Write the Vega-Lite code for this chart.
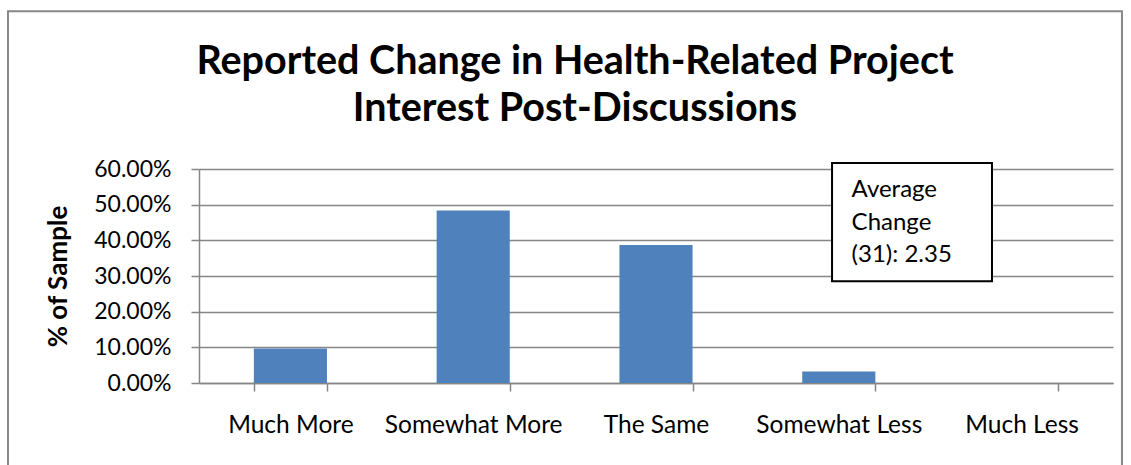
{
  "$schema": "https://vega.github.io/schema/vega-lite/v6.json",
  "width": 914,
  "height": 214,
  "autosize": {"type": "none"},
  "padding": {"left": 199, "top": 169, "right": 18, "bottom": 82},
  "background": "white",
  "config": {
    "font": "Lato",
    "view": {"stroke": null},
    "axis": {"labelFont": "Lato", "titleFont": "Lato", "labelColor": "black", "titleColor": "black"}
  },
  "title": {
    "text": ["Reported Change in Health-Related Project", "Interest Post-Discussions"],
    "font": "Lato",
    "fontSize": 39.5,
    "fontWeight": "bold",
    "lineHeight": 47,
    "anchor": "middle",
    "frame": "group",
    "dx": -81,
    "offset": 0,
    "dy": 119,
    "color": "black"
  },
  "datasets": {
    "bars": [
      {"response": "Much More", "pct": 0.0968},
      {"response": "Somewhat More", "pct": 0.4839},
      {"response": "The Same", "pct": 0.3871},
      {"response": "Somewhat Less", "pct": 0.0323},
      {"response": "Much Less", "pct": 0}
    ],
    "box": [{"x0": 0.6926, "x1": 0.8676, "y0": 0.285, "y1": 0.617}],
    "frame": [{"x0": -0.209, "x1": 1.0098, "y0": -0.3, "y1": 1.042}],
    "note": [
      {"line": "Average", "x": 0.714, "y": 0.540},
      {"line": "Change", "x": 0.714, "y": 0.448},
      {"line": "(31): 2.35", "x": 0.714, "y": 0.358}
    ]
  },
  "resolve": {"scale": {"x": "independent"}},
  "layer": [
    {
      "data": {"name": "bars"},
      "mark": {"type": "bar", "color": "#4F81BD"},
      "encoding": {
        "x": {
          "field": "response", "type": "nominal", "sort": null,
          "scale": {"paddingInner": 0.6, "paddingOuter": 0.3},
          "axis": {
            "title": null, "labelAngle": 0, "labelFontSize": 24.5, "labelPadding": 22,
            "tickBand": "extent", "tickSize": 8, "tickColor": "#868686", "domainColor": "#868686",
            "domainWidth": 1.5, "tickWidth": 1.5, "grid": false
          }
        },
        "y": {
          "field": "pct", "type": "quantitative",
          "scale": {"domain": [0, 0.6]},
          "axis": {
            "title": "% of Sample", "titleFontSize": 26, "titleFontWeight": "bold", "titlePadding": 22,
            "format": ".2%", "values": [0, 0.1, 0.2, 0.3, 0.4, 0.5, 0.6],
            "labelOverlap": false,
            "labelFontSize": 23, "labelPadding": 20, "tickSize": 8,
            "tickColor": "#868686", "domainColor": "#868686", "domainWidth": 1.5, "tickWidth": 1.5,
            "gridColor": "#868686", "gridWidth": 1.5
          }
        }
      }
    },
    {
      "data": {"name": "frame"},
      "mark": {"type": "rect", "fill": null, "stroke": "#888888", "strokeWidth": 2, "clip": false},
      "encoding": {
        "x": {"field": "x0", "type": "quantitative", "scale": {"domain": [0, 1]}, "axis": null},
        "x2": {"field": "x1"},
        "y": {
          "field": "y0", "type": "quantitative",
          "axis": {
            "title": "% of Sample", "titleFontSize": 26, "titleFontWeight": "bold", "titlePadding": 22,
            "format": ".2%", "values": [0, 0.1, 0.2, 0.3, 0.4, 0.5, 0.6],
            "labelOverlap": false,
            "labelFontSize": 23, "labelPadding": 20, "tickSize": 8,
            "tickColor": "#868686", "domainColor": "#868686", "domainWidth": 1.5, "tickWidth": 1.5,
            "gridColor": "#868686", "gridWidth": 1.5
          }
        },
        "y2": {"field": "y1"}
      }
    },
    {
      "data": {"name": "box"},
      "mark": {"type": "rect", "fill": "white", "stroke": "black", "strokeWidth": 2, "clip": false},
      "encoding": {
        "x": {"field": "x0", "type": "quantitative", "scale": {"domain": [0, 1]}, "axis": null},
        "x2": {"field": "x1"},
        "y": {
          "field": "y0", "type": "quantitative",
          "axis": {
            "title": "% of Sample", "titleFontSize": 26, "titleFontWeight": "bold", "titlePadding": 22,
            "format": ".2%", "values": [0, 0.1, 0.2, 0.3, 0.4, 0.5, 0.6],
            "labelOverlap": false,
            "labelFontSize": 23, "labelPadding": 20, "tickSize": 8,
            "tickColor": "#868686", "domainColor": "#868686", "domainWidth": 1.5, "tickWidth": 1.5,
            "gridColor": "#868686", "gridWidth": 1.5
          }
        },
        "y2": {"field": "y1"}
      }
    },
    {
      "data": {"name": "note"},
      "mark": {"type": "text", "align": "left", "baseline": "middle", "fontSize": 24, "font": "Lato", "color": "black"},
      "encoding": {
        "x": {"field": "x", "type": "quantitative", "scale": {"domain": [0, 1]}, "axis": null},
        "y": {
          "field": "y", "type": "quantitative",
          "axis": {
            "title": "% of Sample", "titleFontSize": 26, "titleFontWeight": "bold", "titlePadding": 22,
            "format": ".2%", "values": [0, 0.1, 0.2, 0.3, 0.4, 0.5, 0.6],
            "labelOverlap": false,
            "labelFontSize": 23, "labelPadding": 20, "tickSize": 8,
            "tickColor": "#868686", "domainColor": "#868686", "domainWidth": 1.5, "tickWidth": 1.5,
            "gridColor": "#868686", "gridWidth": 1.5
          }
        },
        "text": {"field": "line"}
      }
    }
  ]
}
